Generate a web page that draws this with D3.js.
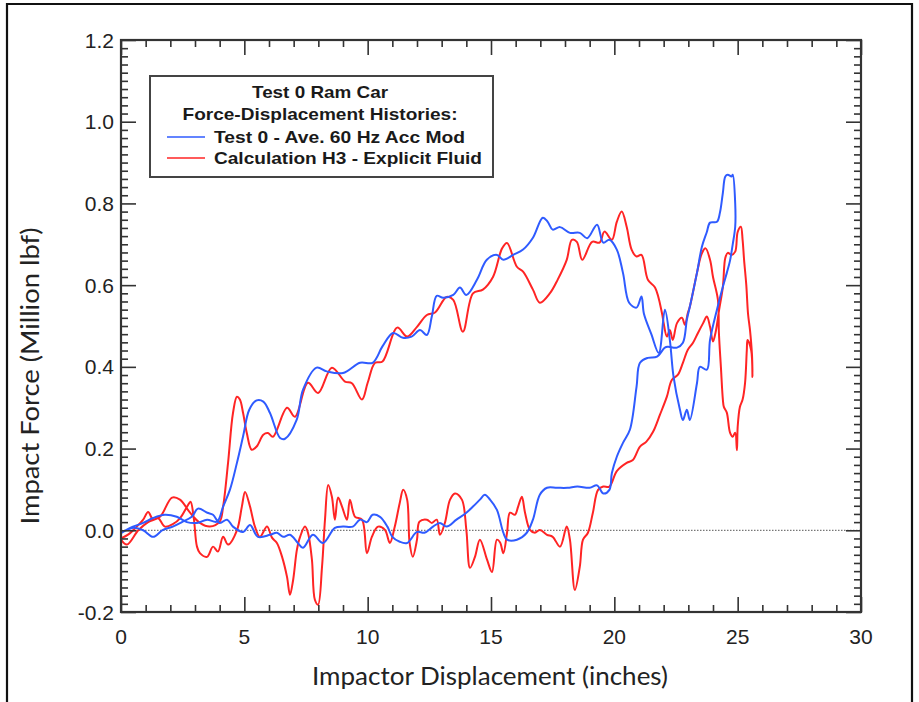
<!DOCTYPE html>
<html><head><meta charset="utf-8">
<script src="https://cdn.jsdelivr.net/npm/d3@7"></script>
<style>
html,body{margin:0;padding:0;background:#fff;}
svg{display:block;}
</style></head>
<body>
<svg id="chart" width="919" height="702"></svg>
<script>
// ---- data (Impactor displacement in inches, impact force in million lbf) ----
const xTickValues = [0, 5, 10, 15, 20, 25, 30];
const yTickValues = [-0.2, 0.0, 0.2, 0.4, 0.6, 0.8, 1.0, 1.2];
const yTickLabels = ["-0.2", "0.0", "0.2", "0.4", "0.6", "0.8", "1.0", "1.2"];
const legendTitle = ["Test 0 Ram Car", "Force-Displacement Histories:"];
const seriesNames = ["Test 0 - Ave. 60 Hz Acc Mod", "Calculation H3 - Explicit Fluid"];

const testX = [0,0.5,0.9,1.3,1.7,2.1,2.47,2.87,3.12,3.5,3.73,4.0,4.3,4.54,4.95,5.23,5.55,6.04,6.32,6.57,6.85,7.17,7.38,7.78,8.19,8.67,9.0,9.4,9.69,9.97,10.2,10.5,10.8,11.0,11.3,11.6,12.0,12.3,12.65,12.93,13.2,13.6,14.0,14.27,14.55,14.75,14.96,15.24,15.5,15.65,16.05,16.45,16.7,16.98,17.27,17.67,18.1,18.5,19.0,19.3,19.55,19.8,19.9,20.1,20.35,20.63,20.9,21.04,21.36,21.73,22.05,22.17,22.54,22.78,22.94,23.06,23.35,23.55,23.75,23.88,24.16,24.28,24.4,24.5,24.6,24.75,24.8,24.9,24.9,24.8,24.69,24.56,24.4,24.16,23.88,23.75,23.47,23.35,23.06,22.94,22.78,22.66,22.4,22.25,22.05,21.8,21.5,21.2,21.1,20.9,20.6,20.35,20.1,19.8,19.55,19.3,18.9,18.6,18.2,17.8,17.5,17.3,17.1,16.7,16.3,15.9,15.5,15.24,14.83,14.43,14.0,13.74,13.47,13.06,12.8,12.6,12.4,12.12,11.78,11.43,11.03,10.6,10.2,9.69,9.0,8.34,7.93,7.38,7.12,6.65,6.45,6.04,5.77,5.5,5.2,4.95,4.7,4.42,4.14,3.89,3.49,3.08,2.67,2.26,1.78,1.3,0.9,0.37,0];
const testY = [-0.007,0.006,0,-0.016,0.001,0.009,0.02,0.033,0.053,0.043,0.038,0.018,0.026,0.009,-0.004,0.013,-0.016,-0.011,-0.006,-0.016,-0.011,-0.031,-0.043,-0.011,-0.031,0.006,0.009,0.009,0.026,0.02,0.038,0.033,0.009,-0.016,-0.028,-0.031,-0.004,-0.006,0.009,0.018,0.009,0.026,0.043,0.058,0.075,0.087,0.075,0.05,-0.006,-0.023,-0.023,-0.006,0.026,0.087,0.104,0.104,0.104,0.107,0.104,0.11,0.09,0.099,0.14,0.18,0.214,0.246,0.351,0.41,0.422,0.425,0.447,0.449,0.447,0.459,0.515,0.547,0.63,0.694,0.73,0.753,0.755,0.777,0.826,0.866,0.87,0.866,0.87,0.80,0.743,0.70,0.66,0.63,0.596,0.54,0.466,0.393,0.40,0.36,0.27,0.295,0.27,0.295,0.376,0.466,0.54,0.434,0.48,0.53,0.572,0.545,0.557,0.63,0.687,0.711,0.704,0.748,0.715,0.728,0.728,0.742,0.736,0.755,0.765,0.716,0.687,0.674,0.662,0.674,0.662,0.613,0.576,0.594,0.576,0.569,0.574,0.523,0.478,0.49,0.474,0.471,0.483,0.45,0.41,0.41,0.385,0.389,0.398,0.344,0.27,0.224,0.226,0.287,0.315,0.318,0.295,0.23,0.165,0.1,0.058,0.021,0.026,0.018,0.02,0.033,0.038,0.03,0.018,0.006,-0.007];

const calcX = [0,0.3,0.64,0.9,1.1,1.3,1.5,1.78,2.1,2.4,2.7,2.82,2.95,3.08,3.2,3.49,3.73,3.93,4.14,4.34,4.7,4.9,5.03,5.23,5.43,5.63,5.92,6.12,6.32,6.53,6.73,6.85,6.98,7.13,7.26,7.46,7.58,7.74,7.86,7.99,8.15,8.27,8.4,8.55,8.67,8.8,8.96,9.16,9.28,9.49,9.77,9.97,10.17,10.42,10.7,10.9,11.1,11.3,11.44,11.6,11.7,11.83,12.0,12.1,12.4,12.6,12.8,12.93,13.13,13.34,13.54,13.82,14.0,14.15,14.35,14.55,14.84,15.04,15.24,15.37,15.5,15.65,15.77,15.97,16.1,16.25,16.38,16.58,16.78,16.98,17.27,17.5,17.8,18.07,18.2,18.4,18.6,18.73,18.93,19.13,19.34,19.55,19.8,20.1,20.5,20.75,21.04,21.3,21.57,21.85,22.13,22.33,22.58,22.78,22.98,23.19,23.39,23.6,23.75,23.88,24.0,24.1,24.25,24.4,24.5,24.6,24.75,24.9,25.0,25.13,25.2,25.26,25.35,25.42,25.5,25.58,25.6,25.55,25.4,25.37,25.3,25.2,25.09,25.0,24.97,24.9,24.8,24.69,24.56,24.44,24.4,24.32,24.24,24.2,24.0,23.88,23.7,23.55,23.35,23.06,22.98,22.86,22.74,22.54,22.37,22.25,22.13,22.0,21.93,21.65,21.36,21.1,20.9,20.7,20.5,20.3,20.1,19.9,19.6,19.4,19.1,18.7,18.48,18.28,18.07,17.7,17.4,16.98,16.7,16.3,16.05,15.65,15.45,15.08,14.67,14.27,13.86,13.47,13.2,12.73,12.4,12.0,11.6,11.2,10.6,10.3,10.0,9.77,9.36,9.08,8.55,7.99,7.58,7.05,6.73,6.16,5.96,5.77,5.5,5.3,5.1,4.95,4.82,4.7,4.54,4.34,4.14,4.0,3.6,3.2,2.8,2.39,2.07,1.58,1.1,0.7,0.24,0];
const calcY = [-0.02,-0.01,0.009,0.026,0.045,0.026,0.03,0.009,0.015,0.03,0.06,0.07,0.03,-0.04,-0.056,-0.065,-0.04,-0.052,-0.016,-0.035,0.0,0.058,0.094,0.058,0.009,-0.016,0.009,-0.018,-0.031,-0.065,-0.114,-0.158,-0.121,-0.048,-0.016,0.009,-0.006,-0.072,-0.17,-0.182,-0.089,0.026,0.111,0.082,0.026,0.08,0.058,0.026,0.075,0.033,0.026,-0.056,-0.016,0.009,0.001,-0.031,0.009,0.067,0.099,0.075,-0.031,-0.065,-0.023,0.021,0.026,0.018,0.026,-0.011,0.018,0.075,0.09,0.075,0.001,-0.092,-0.065,-0.023,-0.072,-0.102,-0.023,-0.03,-0.056,-0.006,0.043,0.038,0.058,0.082,0.043,0.001,-0.006,0.001,-0.011,-0.016,-0.04,0.009,-0.023,-0.146,-0.089,-0.023,-0.006,0.043,0.099,0.107,0.107,0.145,0.165,0.172,0.205,0.217,0.241,0.283,0.327,0.368,0.381,0.41,0.442,0.459,0.483,0.507,0.523,0.498,0.462,0.483,0.54,0.596,0.667,0.679,0.674,0.682,0.73,0.743,0.711,0.662,0.6,0.53,0.49,0.43,0.375,0.44,0.466,0.44,0.361,0.32,0.302,0.253,0.196,0.239,0.229,0.239,0.288,0.302,0.32,0.40,0.483,0.564,0.62,0.662,0.69,0.678,0.63,0.547,0.532,0.503,0.52,0.507,0.466,0.49,0.474,0.507,0.532,0.594,0.613,0.674,0.67,0.687,0.743,0.78,0.755,0.711,0.731,0.704,0.706,0.662,0.706,0.711,0.662,0.613,0.581,0.557,0.589,0.633,0.645,0.703,0.69,0.62,0.589,0.58,0.486,0.564,0.571,0.533,0.527,0.498,0.474,0.496,0.413,0.41,0.361,0.32,0.36,0.364,0.398,0.336,0.361,0.278,0.3,0.229,0.238,0.234,0.205,0.197,0.238,0.287,0.32,0.327,0.287,0.165,0.058,0.021,0.009,0.018,0.043,0.075,0.08,0.033,0.02,0.0,-0.035,-0.023];

// ---- layout ----
const svg = d3.select("#chart");
const L = 121, R = 861, T = 40, B = 612;
const x = d3.scaleLinear().domain([0, 30]).range([L, R]);
const y = d3.scaleLinear().domain([-0.2, 1.2]).range([B, T]);
const tickFont = "'Liberation Sans',Arial,sans-serif";
const titleFont = "Lato,'Open Sans',sans-serif";
const frameCol = "#333";

// outer border of the image
svg.append("path").attr("d", "M7,702 L7,4 L912,4 L912,702")
  .attr("fill", "none").attr("stroke", "#111").attr("stroke-width", 2.2);

// zero reference line
svg.append("line").attr("x1", x(0)).attr("x2", x(30)).attr("y1", y(0)).attr("y2", y(0))
  .attr("stroke", "#777").attr("stroke-width", 1.3).attr("stroke-dasharray", "1.5,1.5");

// series
const blue = "#2f5bff", red = "#ff2424";
function drawSeries(xs, ys, color) {
  const pts = xs.map((v, i) => [v, ys[i]]);
  svg.append("path").datum(pts)
    .attr("fill", "none").attr("stroke", color).attr("stroke-width", 2)
    .attr("stroke-linejoin", "round")
    .attr("d", d3.line().x(d => x(d[0])).y(d => y(d[1])).curve(d3.curveCatmullRom.alpha(0.5)));
}
drawSeries(calcX, calcY, red);
drawSeries(testX, testY, blue);

// axes with inward ticks (major + minor) on all four sides
const xMinor = d3.range(0, 31, 1).filter(v => v % 5 !== 0);
const yMinorVals = d3.range(-10, 61).filter(i => i % 10 !== 0).map(i => i * 0.02);
function axisGroup(axisFn, scale, tf, vals, size) {
  const g = svg.append("g").attr("transform", tf)
    .call(axisFn(scale).tickValues(vals).tickSize(size).tickFormat(""));
  g.select(".domain").remove();
  g.selectAll("line").attr("stroke", frameCol).attr("stroke-width", 1.6);
  return g;
}
axisGroup(d3.axisTop, x, `translate(0,${B})`, xTickValues, 15);
axisGroup(d3.axisTop, x, `translate(0,${B})`, xMinor, 7);
axisGroup(d3.axisBottom, x, `translate(0,${T})`, xTickValues, 15);
axisGroup(d3.axisBottom, x, `translate(0,${T})`, xMinor, 7);
axisGroup(d3.axisRight, y, `translate(${L},0)`, yTickValues, 15);
axisGroup(d3.axisRight, y, `translate(${L},0)`, yMinorVals, 7);
axisGroup(d3.axisLeft, y, `translate(${R},0)`, yTickValues, 15);
axisGroup(d3.axisLeft, y, `translate(${R},0)`, yMinorVals, 7);

// frame
svg.append("rect").attr("x", L).attr("y", T).attr("width", R - L).attr("height", B - T)
  .attr("fill", "none").attr("stroke", frameCol).attr("stroke-width", 2.2);

// tick labels
svg.append("g").selectAll("text").data(xTickValues).join("text")
  .attr("x", d => x(d)).attr("y", B + 32).attr("text-anchor", "middle")
  .attr("font-family", tickFont).attr("font-size", 21).attr("fill", "#222")
  .text(d => d);
svg.append("g").selectAll("text").data(yTickValues).join("text")
  .attr("x", L - 7).attr("y", d => y(d) + 7.5).attr("text-anchor", "end")
  .attr("font-family", tickFont).attr("font-size", 21).attr("fill", "#222")
  .text((d, i) => yTickLabels[i]);

// axis titles
svg.append("text").attr("x", 490).attr("y", 685).attr("text-anchor", "middle")
  .attr("font-family", titleFont).attr("font-size", 25).attr("fill", "#222")
  .attr("textLength", 356).attr("lengthAdjust", "spacingAndGlyphs")
  .text("Impactor Displacement (inches)");
svg.append("text").attr("transform", "translate(39,376) rotate(-90)").attr("text-anchor", "middle")
  .attr("font-family", titleFont).attr("font-size", 25).attr("fill", "#222")
  .attr("textLength", 297).attr("lengthAdjust", "spacingAndGlyphs")
  .text("Impact Force (Million lbf)");

// legend
const lg = svg.append("g");
lg.append("rect").attr("x", 150).attr("y", 76).attr("width", 343).attr("height", 101)
  .attr("fill", "#fff").attr("stroke", "#444").attr("stroke-width", 2);
const lf = "'Liberation Sans',Arial,sans-serif";
const titleLens = [136, 275];
legendTitle.forEach((t, i) => {
  lg.append("text").attr("x", 320).attr("y", 98 + i * 22).attr("text-anchor", "middle")
    .attr("font-family", lf).attr("font-weight", "bold").attr("font-size", 17).attr("fill", "#1a1a1a")
    .attr("textLength", titleLens[i]).attr("lengthAdjust", "spacingAndGlyphs")
    .text(t);
});
const nameLens = [251, 268];
[blue, red].forEach((c, i) => {
  const yy = 137 + i * 21;
  lg.append("line").attr("x1", 167).attr("x2", 205).attr("y1", yy).attr("y2", yy)
    .attr("stroke", c).attr("stroke-width", 1.6);
  lg.append("text").attr("x", 214).attr("y", yy + 6)
    .attr("font-family", lf).attr("font-weight", "bold").attr("font-size", 17).attr("fill", "#1a1a1a")
    .attr("textLength", nameLens[i]).attr("lengthAdjust", "spacingAndGlyphs")
    .text(seriesNames[i]);
});
</script>
</body></html>
